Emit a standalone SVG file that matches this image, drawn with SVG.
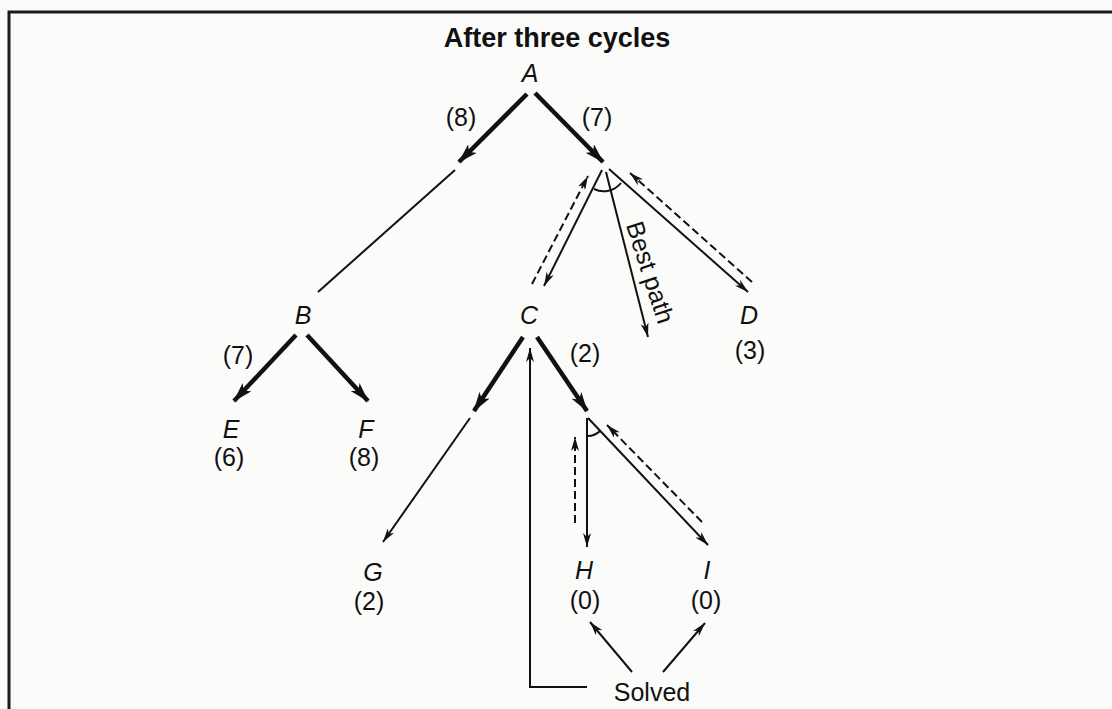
<svg xmlns="http://www.w3.org/2000/svg" width="1112" height="709" viewBox="0 0 1112 709">
<defs>
<style>
.bg{fill:#fbfbfa}
.frame{stroke:#1a1a1a;stroke-width:3;fill:none}
.thick{stroke:#111;stroke-width:4.5;fill:none}
.thin{stroke:#111;stroke-width:2;fill:none}
.dash{stroke:#111;stroke-width:2;fill:none;stroke-dasharray:8 4}
.node{font-family:"Liberation Sans",Arial,sans-serif;font-style:italic;font-size:25px;fill:#111;text-anchor:middle}
.val{font-family:"Liberation Sans",Arial,sans-serif;font-size:25px;fill:#111;text-anchor:middle}
.title{font-family:"Liberation Sans",Arial,sans-serif;font-weight:bold;font-size:27px;fill:#111;text-anchor:middle}
</style>
<marker id="ah" viewBox="0 0 20 12" markerWidth="20" markerHeight="12" refX="19" refY="6" orient="auto" markerUnits="userSpaceOnUse">
<path d="M0,0 L20,6 L0,12 L5,6 z" fill="#111"/>
</marker>
<marker id="at" viewBox="0 0 14 8" markerWidth="14" markerHeight="8" refX="14" refY="4" orient="auto" markerUnits="userSpaceOnUse">
<path d="M0,0 L14,4 L0,8 L4,4 z" fill="#111"/>
</marker>
</defs>
<rect class="bg" x="0" y="0" width="1112" height="709"/>
<path class="frame" d="M9,709 L9,12 L1112,12"/>
<text class="title" x="557" y="47">After three cycles</text>

<g id="connectors">
<path class="thick" d="M527,94 L459,162" marker-end="url(#ah)"/>
<path class="thick" d="M535,93 L603,162" marker-end="url(#ah)"/>
<path class="thick" d="M296,335 L234,401" marker-end="url(#ah)"/>
<path class="thick" d="M307,335 L368,401" marker-end="url(#ah)"/>
<path class="thick" d="M523,337 L474,411" marker-end="url(#ah)"/>
<path class="thick" d="M537,337 L587,411" marker-end="url(#ah)"/>
<path class="thin" d="M455,170 L318,292"/>
<path class="thin" d="M470,418 L383,542" marker-end="url(#at)"/>
<path class="thin" d="M602,170 L544,286" marker-end="url(#at)"/>
<path class="thin" d="M606,172 L648,337" marker-end="url(#at)"/>
<path class="thin" d="M609,169 L748,292" marker-end="url(#at)"/>
<path class="dash" d="M532,284 L588,176" marker-end="url(#at)"/>
<path class="dash" d="M752,282 L630,173" marker-end="url(#at)"/>
<path class="thin" d="M594,189 A22,22 0 0 0 621,183"/>
<path class="thin" d="M587,418 L587,547" marker-end="url(#at)"/>
<path class="thin" d="M588,418 L708,545" marker-end="url(#at)"/>
<path class="dash" d="M575,523 L575,437" marker-end="url(#at)"/>
<path class="dash" d="M702,522 L607,425" marker-end="url(#at)"/>
<path class="thin" d="M587,436 A18,18 0 0 0 600,431"/>
<path class="thin" d="M632,672 L590,622" marker-end="url(#at)"/>
<path class="thin" d="M663,672 L705,623" marker-end="url(#at)"/>
<path class="thin" d="M587,687 L530,687 L530,348" marker-end="url(#at)"/>
<text class="val" transform="translate(642,275) rotate(72)">Best path</text>
<text class="val" x="461" y="126">(8)</text>
<text class="val" x="597" y="126">(7)</text>
<text class="val" x="238" y="364">(7)</text>
<text class="val" x="585" y="362">(2)</text>
</g>

<g id="node-A"><text class="node" x="530" y="82">A</text></g>
<g id="node-B"><text class="node" x="303" y="324">B</text></g>
<g id="node-C"><text class="node" x="529" y="324">C</text></g>
<g id="node-D"><text class="node" x="749" y="324">D</text><text class="val" x="750" y="359">(3)</text></g>
<g id="node-E"><text class="node" x="231" y="438">E</text><text class="val" x="229" y="466">(6)</text></g>
<g id="node-F"><text class="node" x="366" y="438">F</text><text class="val" x="364" y="466">(8)</text></g>
<g id="node-G"><text class="node" x="373" y="581">G</text><text class="val" x="369" y="610">(2)</text></g>
<g id="node-H"><text class="node" x="584" y="579">H</text><text class="val" x="585" y="609">(0)</text></g>
<g id="node-I"><text class="node" x="707" y="579">I</text><text class="val" x="706" y="609">(0)</text></g>
<g id="node-Solved"><text class="val" x="652" y="701">Solved</text></g>
</svg>
